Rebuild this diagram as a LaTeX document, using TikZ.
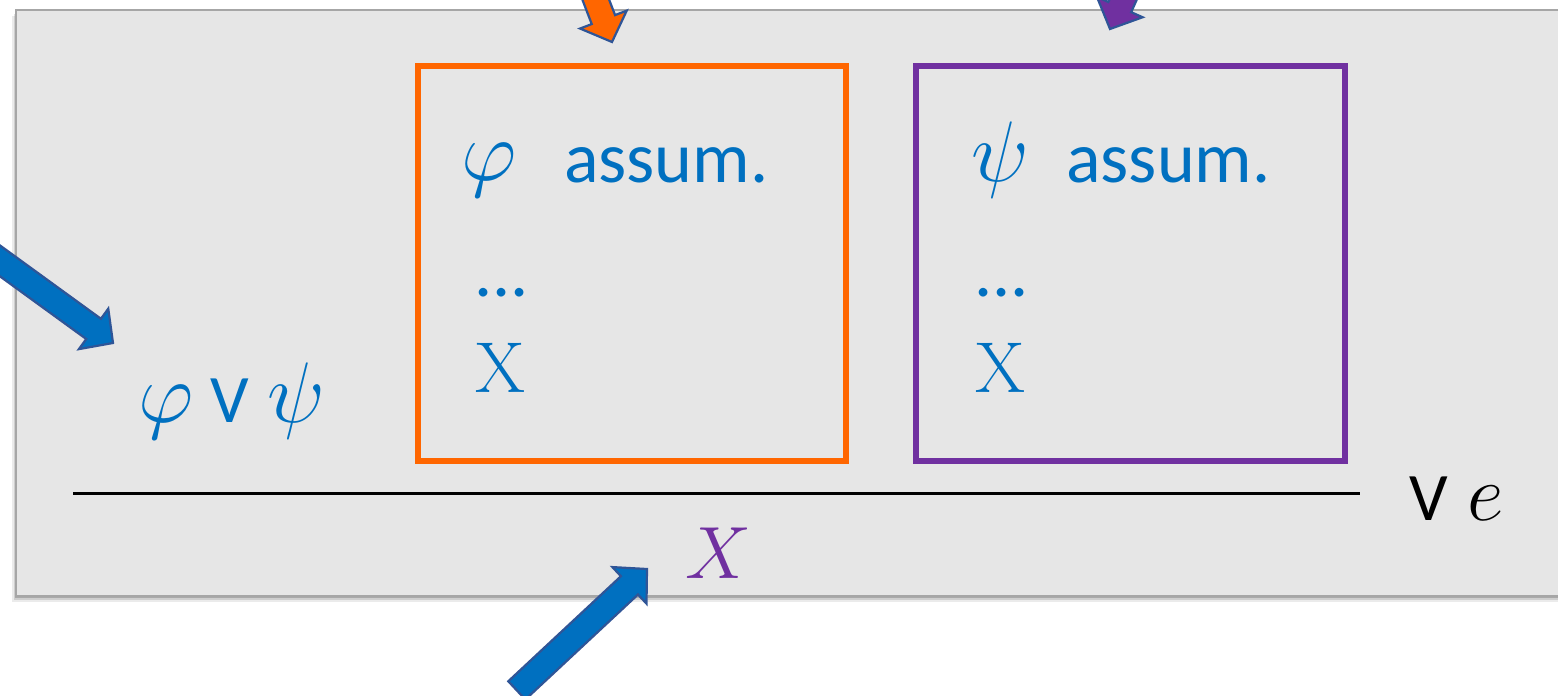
\documentclass[tikz,border=0pt]{standalone}
\usepackage{fix-cm}
\usepackage[no-math]{fontspec}
\setmainfont{Carlito}
\definecolor{txtblue}{HTML}{0070C0}
\definecolor{boxorange}{HTML}{FF6600}
\definecolor{boxpurple}{HTML}{7030A0}
\definecolor{arrowedge}{HTML}{2F5597}
\definecolor{panelfill}{HTML}{E6E6E6}
\definecolor{paneledge}{HTML}{A6A6A6}
\tikzset{
  panel/.style={fill=panelfill, draw=paneledge, line width=2pt},
  frame/.style={draw, line width=6pt},
  arrowbody/.style={draw=arrowedge, line width=2.2pt, line join=miter},
  word/.style={inner sep=0pt, anchor=base west, text=txtblue, font=\fontsize{72}{80}\selectfont},
  sym/.style={inner sep=0pt, anchor=base, text=txtblue, font=\fontsize{86}{92}\selectfont},
  bigx/.style={inner sep=0pt, anchor=base, text=txtblue, font=\fontsize{72}{80}\selectfont},
  orsign/.style={inner sep=0pt, anchor=base, font=\fontsize{68}{72}\selectfont},
}
% block arrow: tip (#1,#2), rotation #3, total length #4, fill colour #5
\newcommand\blockarrow[5]{%
  \begin{scope}[shift={(#1,#2)}, rotate=#3]
    \draw[arrowbody, fill=#5] (0,0) -- (-24,25) -- (-24,12.5) -- (-#4,12.5)
      -- (-#4,-12.5) -- (-24,-12.5) -- (-24,-25) -- cycle;
  \end{scope}}
\begin{document}
\begin{tikzpicture}[x=1pt, y=-1pt]
  \useasboundingbox (0,0) rectangle (1558,696);
  \clip (0,0) rectangle (1558,696);

  % soft shadow and panel
  \foreach \o/\a in {6/0.08, 4/0.12, 2/0.18}
    \fill[black, opacity=\a] (16-\o*0.6,10+\o) rectangle (1580,596+\o);
  \draw[panel] (16,10) rectangle (1580,596);

  % the two assumption boxes
  \draw[frame, boxorange] (418,66) rectangle (846,461);
  \draw[frame, boxpurple] (916,66) rectangle (1345,461);

  % left box contents
  \node[sym] (phiA) at (489,180) {$\varphi$};
  \node[word] (assumA) at (564,182) {assum.};
  \node[word] (dotsA) at (474,296) {...};
  \node[bigx] (xA) at (500,392) {$\mathrm{X}$};

  % right box contents
  \node[sym] (psiB) at (1000,181) {$\psi$};
  \node[word] (assumB) at (1066,182) {assum.};
  \node[word] (dotsB) at (974,296) {...};
  \node[bigx] (xB) at (1000,392) {$\mathrm{X}$};

  % major premise
  \node[sym] (phi) at (166,422) {$\varphi$};
  \node[orsign, text=txtblue] (orA) at (230,422) {V};
  \node[sym] (psi) at (296,422) {$\psi$};

  % inference line, rule name and conclusion
  \coordinate (ruleL) at (73,493);
  \coordinate (ruleR) at (1360,493);
  \draw[line width=3pt] (ruleL) -- (ruleR);
  \node[orsign] (orE) at (1429,520) {V};
  \node[inner sep=0pt, anchor=base, font=\fontsize{80}{86}\selectfont] (e) at (1486,520) {$e$};
  \node[inner sep=0pt, anchor=base, text=boxpurple, font=\fontsize{74}{80}\selectfont] (concl) at (718,578) {$X$};

  % pointer arrows
  \blockarrow{612}{42}{-69}{110}{boxorange}
  \blockarrow{1110}{29}{-114}{110}{boxpurple}
  \blockarrow{113}{343}{-36}{200}{txtblue}
  \blockarrow{647}{569}{43}{178}{txtblue}
\end{tikzpicture}
\end{document}
